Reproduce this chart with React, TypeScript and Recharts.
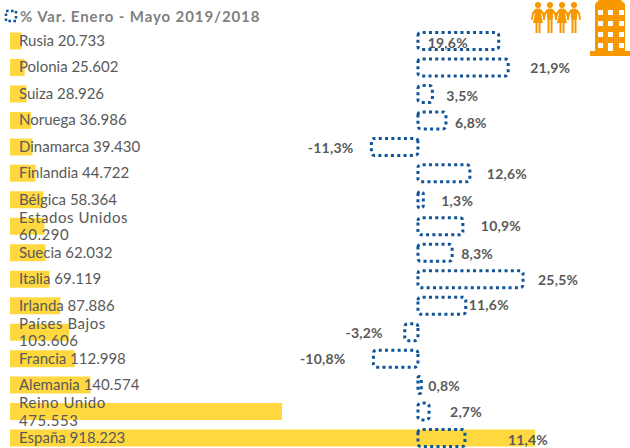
import React from 'react';
import { Bar, BarChart, LabelList, XAxis, YAxis } from 'recharts';

const countries = [
  'Rusia', 'Polonia', 'Suiza', 'Noruega', 'Dinamarca', 'Finlandia', 'Bélgica', 'Estados Unidos',
  'Suecia', 'Italia', 'Irlanda', 'Países Bajos', 'Francia', 'Alemania', 'Reino Unido', 'España',
];
const visitors = [
  20733, 25602, 28926, 36986, 39430, 44722, 58364, 60290,
  62032, 69119, 87886, 103606, 112998, 140574, 475553, 918223,
];
const variation = [19.6, 21.9, 3.5, 6.8, -11.3, 12.6, 1.3, 10.9, 8.3, 25.5, 11.6, -3.2, -10.8, 0.8, 2.7, 11.4];

// hand placed % labels in the original, offset from the end of each bar
const labelShiftX = [-71, 22, 14, 9, -18, 17, 18, 18, 9, 15, 3, -22, -28, 7, 21, 43];
const labelShiftY = [2, 1, 2, 3, 1, 1, 1, 0, 1, 1, -1, 1, 0, 1, 0, 2];

const data = countries.map((name, i) => ({ name, visitors: visitors[i], variation: variation[i] }));

const FONT = 'Lato, sans-serif';
const GREY = '#595959';
const BLUE = '#0F5499';
const ORANGE = '#F79800';

const NameLabel = (props: any) => {
  const { x, y, height, index } = props;
  const name = countries[index];
  const num = visitors[index].toLocaleString('de-DE');
  const cy = y + height / 2;
  const style = { fontFamily: FONT, fontSize: 15, fill: GREY };
  if (name.includes(' ')) {
    return (
      <text x={x + 9} y={cy} style={{ ...style, letterSpacing: 0.55 }}>
        <tspan x={x + 9} y={cy - 3.5}>{name}</tspan>
        <tspan x={x + 9} y={cy + 14}>{num}</tspan>
      </text>
    );
  }
  return <text x={x + 9} y={cy + 5} style={style}>{`${name} ${num}`}</text>;
};

const PctLabel = (props: any) => {
  const { x, y, width, height, index } = props;
  const v = variation[index];
  const end = x + width;
  return (
    <text
      x={end + labelShiftX[index]}
      y={y + height / 2 + 5 + labelShiftY[index]}
      textAnchor={v < 0 ? 'end' : 'start'}
      style={{ fontFamily: FONT, fontSize: 14, fontWeight: 700, fill: GREY, letterSpacing: 0.2 }}
    >
      {`${v.toFixed(1).replace('.', ',')}%`}
    </text>
  );
};

const Person = ({ x, skirt }: { x: number; skirt: boolean }) => (
  <g transform={`translate(${x} 0)`} fill={ORANGE}>
    <circle cx={7} cy={5} r={3} />
    <rect x={4} y={8.5} width={6} height={11} rx={1.5} />
    {skirt && <polygon points="4,14 10,14 12,23 2,23" />}
    <rect x={4.5} y={19} width={2} height={14} />
    <rect x={7.5} y={19} width={2} height={14} />
    <polygon points="4,9 1,13 0,20 1.5,20 3,14 5,12" />
    <polygon points="10,9 13,13 14,20 12.5,20 11,14 9,12" />
  </g>
);

const Building = () => {
  const cols = [8, 18, 29];
  const rows = [10, 21, 32, 43];
  return (
    <svg width={40} height={56} style={{ position: 'absolute', left: 590, top: 0 }}>
      <polygon points="5,51 5,4 9,0 31,0 35,4 35,51" fill={ORANGE} />
      <rect x={0} y={51} width={40} height={5} fill={ORANGE} />
      {rows.map((ry) =>
        cols.map((cx) => <rect key={`${ry}-${cx}`} x={cx} y={ry} width={5} height={5} fill="#fff" />),
      )}
      <rect x={18} y={43} width={5} height={8} fill="#fff" />
    </svg>
  );
};

const App = () => {
  return (
    <div style={{ position: 'absolute', left: 0, top: 0, width: 630, height: 448, overflow: 'hidden', background: '#fff' }}>
      <BarChart
        width={630}
        height={452}
        data={data}
        layout="vertical"
        margin={{ top: 27.5, right: 0, bottom: 1, left: 10 }}
        barSize={17}
        barGap={-17}
      >
        <XAxis xAxisId="visitors" type="number" hide domain={[0, 1083900]} allowDataOverflow />
        <XAxis xAxisId="variation" type="number" hide domain={[-99, 51.46]} allowDataOverflow />
        <YAxis type="category" dataKey="name" hide />
        <Bar xAxisId="visitors" dataKey="visitors" fill="#FFD83F" isAnimationActive={false}>
          <LabelList dataKey="visitors" content={<NameLabel />} />
        </Bar>
        <Bar
          xAxisId="variation"
          dataKey="variation"
          fill="none"
          stroke={BLUE}
          strokeWidth={3}
          strokeDasharray="3 3.3"
          radius={3}
          isAnimationActive={false}
        >
          <LabelList dataKey="variation" content={<PctLabel />} />
        </Bar>
      </BarChart>

      <svg width={14} height={14} style={{ position: 'absolute', left: 4, top: 9 }}>
        <rect x={2} y={2} width={10} height={10} fill="none" stroke={BLUE} strokeWidth={2.5} strokeDasharray="2.6 2.4" />
      </svg>
      <div
        style={{
          position: 'absolute',
          left: 20,
          top: 7,
          fontFamily: FONT,
          fontSize: 15,
          fontWeight: 700,
          color: '#7F7F7F',
          letterSpacing: 0.9,
          whiteSpace: 'nowrap',
        }}
      >
        % Var. Enero - Mayo 2019/2018
      </div>

      <svg width={54} height={35} style={{ position: 'absolute', left: 530, top: 0 }}>
        <Person x={1} skirt />
        <Person x={13} skirt={false} />
        <Person x={25} skirt />
        <Person x={37} skirt={false} />
      </svg>
      <Building />
    </div>
  );
};

export default App;
